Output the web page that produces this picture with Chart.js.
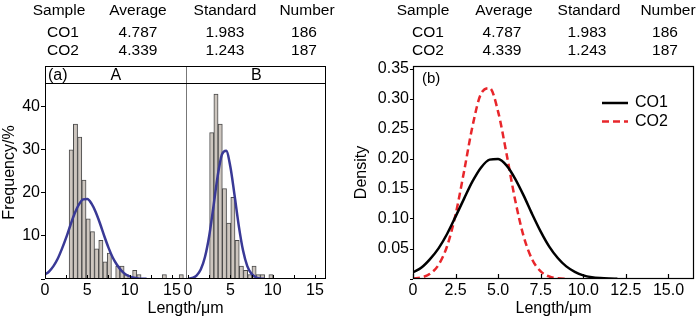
<!DOCTYPE html>
<html>
<head>
<meta charset="utf-8">
<script src="https://cdn.jsdelivr.net/npm/chart.js@4.4.1/dist/chart.umd.min.js"></script>
<style>
  body { margin: 0; background: #fff; }
  #wrap { position: relative; width: 700px; height: 319px; font-family: 'Liberation Sans', Arial, sans-serif; }
  canvas { position: absolute; top: 0; }
  .t { position: absolute; font-size: 15.5px; line-height: 15px; white-space: nowrap; transform: translateX(-50%); color: #000; }
</style>
</head>
<body>
<div id="wrap">
  <canvas id="histo" width="350" height="319" style="left:0"></canvas>
  <canvas id="density" width="350" height="319" style="left:350px"></canvas>
</div>
<script>
// summary table above both panels
const tableHead = ['Sample', 'Average', 'Standard', 'Number'];
const tableCO1 = ['CO1', '4.787', '1.983', '186'];
const tableCO2 = ['CO2', '4.339', '1.243', '187'];

// histogram A (CO1): bin centres in µm and counts
const binsA = [3.1, 3.6, 4.1, 4.6, 5.1, 5.6, 6.1, 6.6, 7.1, 7.6, 8.6, 9.1, 9.6, 10.6, 11.1, 14.1, 16.1];
const countsA = [30, 36, 33, 23, 14, 11, 7, 9, 4, 6, 3, 3, 1, 2, 1, 1, 1];
// histogram B (CO2)
const binsB = [2.8, 3.3, 3.8, 4.3, 4.8, 5.3, 5.8, 6.3, 6.8, 7.3, 7.8, 8.3, 8.8, 9.8];
const countsB = [34, 43, 36, 21, 13, 19, 9, 3, 2, 1, 3, 1, 1, 1];

// fitted curves over the histograms
const fitAx = [0, 0.5, 1, 1.5, 2, 2.5, 3, 3.5, 4, 4.5, 5, 5.5, 6, 6.5, 7, 7.5, 8, 8.5, 9, 9.5, 10, 10.5, 11, 11.5, 12];
const fitAy = [1.0, 1.8, 3.0, 4.7, 7.0, 9.6, 12.5, 15.2, 17.3, 18.5, 18.6, 17.5, 15.5, 12.9, 10.0, 7.3, 5.0, 3.3, 2.0, 1.1, 0.6, 0.3, 0.14, 0.07, 0.03];
const fitBx = [0, 0.5, 1, 1.5, 2, 2.5, 3, 3.5, 4, 4.5, 5, 5.5, 6, 6.5, 7, 7.5, 8, 8.5, 9];
const fitBy = [0.07, 0.25, 0.81, 2.2, 5.1, 10.0, 16.8, 23.9, 28.9, 29.8, 26.1, 19.4, 12.3, 6.6, 3.0, 1.2, 0.4, 0.1, 0.03];

// density curves, panel (b)
const densX1 = [0, 0.5, 1, 1.5, 2, 2.5, 3, 3.5, 4, 4.5, 5, 5.5, 6, 6.5, 7, 7.5, 8, 8.5, 9, 9.5, 10, 10.5, 11, 11.5, 12];
const densCO1 = [0.011, 0.019, 0.033, 0.051, 0.075, 0.104, 0.134, 0.163, 0.186, 0.199, 0.200, 0.189, 0.167, 0.139, 0.108, 0.079, 0.054, 0.035, 0.021, 0.012, 0.006, 0.003, 0.0015, 0.0007, 0.0003];
const densX2 = [0, 0.5, 1, 1.5, 2, 2.5, 3, 3.5, 4, 4.5, 5, 5.5, 6, 6.5, 7, 7.5, 8, 8.5, 9];
const densCO2 = [0.0007, 0.0027, 0.0087, 0.0236, 0.0546, 0.1074, 0.1797, 0.2555, 0.3092, 0.3182, 0.2786, 0.2075, 0.1314, 0.0708, 0.0324, 0.0127, 0.0042, 0.0012, 0.0003];

const histTicks = [0, 5, 10, 15];

// axis ranges of the two histogram sub-panels, laid side by side on one x scale
const A_MIN = 0, A_MAX = 16.6;
const B_MIN = -0.3, B_MAX = 16.3;
const A_SPAN = A_MAX - A_MIN;
const B_OFF = A_SPAN - B_MIN;
const X_MAX = A_SPAN + (B_MAX - B_MIN);
const STRIP_H = 17;

Chart.defaults.font.family = "'Liberation Sans', Arial, sans-serif";
Chart.defaults.color = '#000';

// table text
const wrap = document.getElementById('wrap');
function addTable(cols) {
  const rows = [tableHead, tableCO1, tableCO2];
  const tops = [1.5, 24, 41.5];
  rows.forEach((row, r) => {
    row.forEach((txt, c) => {
      const d = document.createElement('div');
      d.className = 't';
      d.textContent = txt;
      d.style.left = cols[r === 0 ? 0 : 1][c] + 'px';
      d.style.top = tops[r] + 'px';
      wrap.appendChild(d);
    });
  });
}
addTable([[59, 138, 225, 307], [63, 138, 225, 304]]);
addTable([[423, 504, 589, 668], [428, 502, 587, 665]]);

const toXY = (xs, ys, off) => xs.map((x, i) => ({ x: x + off, y: ys[i] }));

// frame, A/B strip and inward ticks for panel (a)
const histFrame = {
  id: 'histFrame',
  afterDraw(chart) {
    const { ctx, chartArea: { left, right, top, bottom }, scales: { x } } = chart;
    ctx.save();
    ctx.fillStyle = '#fff';
    ctx.fillRect(left, top, right - left, STRIP_H);
    ctx.strokeStyle = '#000';
    ctx.lineWidth = 1;
    // inward minor ticks
    ctx.beginPath();
    [0, 2.5, 5, 7.5, 10, 12.5, 15].forEach(v => {
      [v - A_MIN, v + B_OFF].forEach(g => {
        const px = Math.round(x.getPixelForValue(g)) + 0.5;
        ctx.moveTo(px, bottom);
        ctx.lineTo(px, bottom - 4);
      });
    });
    ctx.stroke();
    // divider
    const dx = Math.round(x.getPixelForValue(A_SPAN)) + 0.5;
    ctx.strokeStyle = '#777';
    ctx.beginPath();
    ctx.moveTo(dx, top);
    ctx.lineTo(dx, bottom);
    ctx.stroke();
    // frame + strip line
    ctx.strokeStyle = '#000';
    ctx.strokeRect(left + 0.5, top + 0.5, right - left - 1, bottom - top - 1);
    ctx.beginPath();
    ctx.moveTo(left, top + STRIP_H + 0.5);
    ctx.lineTo(right, top + STRIP_H + 0.5);
    ctx.stroke();
    // strip text
    ctx.fillStyle = '#000';
    ctx.font = "16px 'Liberation Sans', Arial, sans-serif";
    ctx.textBaseline = 'middle';
    ctx.textAlign = 'left';
    ctx.fillText('(a)', left + 3, top + STRIP_H / 2 + 1);
    ctx.textAlign = 'center';
    ctx.fillText('A', (left + dx) / 2, top + STRIP_H / 2 + 1);
    ctx.fillText('B', (dx + right) / 2, top + STRIP_H / 2 + 1);
    ctx.restore();
  }
};

new Chart(document.getElementById('histo'), {
  type: 'bar',
  data: {
    datasets: [
      {
        type: 'line', data: toXY(fitAx, fitAy, -A_MIN), borderColor: '#393996', borderWidth: 2.5,
        pointRadius: 0, cubicInterpolationMode: 'monotone', order: 1
      },
      {
        type: 'line', data: toXY(fitBx, fitBy, B_OFF), borderColor: '#393996', borderWidth: 2.5,
        pointRadius: 0, cubicInterpolationMode: 'monotone', order: 1
      },
      {
        type: 'bar',
        data: toXY(binsA, countsA, -A_MIN).concat(toXY(binsB, countsB, B_OFF)),
        backgroundColor: '#cdc6bf', borderColor: '#4a4a4a', borderWidth: 1,
        barPercentage: 1, categoryPercentage: 1, order: 2
      }
    ]
  },
  options: {
    responsive: false,
    animation: false,
    layout: { padding: { top: 66, right: 24, left: 0, bottom: 0 } },
    plugins: { legend: { display: false }, tooltip: { enabled: false } },
    scales: {
      x: {
        type: 'linear', min: 0, max: X_MAX, offset: false,
        grid: { display: false }, border: { display: false },
        afterBuildTicks: s => {
          s.ticks = histTicks.map(v => ({ value: v - A_MIN })).concat(histTicks.map(v => ({ value: v + B_OFF })));
        },
        ticks: {
          autoSkip: false, maxRotation: 0, padding: -6, font: { size: 16 },
          callback: (v, i) => String(histTicks.concat(histTicks)[i])
        },
        title: { display: true, text: 'Length/μm', font: { size: 16 }, padding: { top: 0, bottom: 1 } },
        afterFit: s => { s.height = 40; }
      },
      y: {
        min: 0, max: 49.5,
        border: { display: false },
        grid: { drawOnChartArea: false, tickLength: 4, color: '#000' },
        ticks: { stepSize: 10, includeBounds: false, padding: 1, font: { size: 16 }, callback: v => v === 0 ? '' : v },
        title: { display: true, text: 'Frequency/%', font: { size: 16, lineHeight: 1.25 }, padding: 0 },
        afterFit: s => { s.width = 45; }
      }
    }
  },
  plugins: [histFrame]
});

// frame, inward x ticks, "(b)" and legend for panel (b)
const densFrame = {
  id: 'densFrame',
  afterDraw(chart) {
    const { ctx, chartArea: { left, right, top, bottom }, scales: { x } } = chart;
    ctx.save();
    ctx.strokeStyle = '#000';
    ctx.lineWidth = 1.2;
    ctx.strokeRect(left + 0.5, top + 0.5, right - left - 1, bottom - top - 1);
    ctx.beginPath();
    x.ticks.forEach(t => {
      const px = Math.round(x.getPixelForValue(t.value)) + 0.5;
      ctx.moveTo(px, bottom);
      ctx.lineTo(px, bottom - 5);
    });
    ctx.stroke();
    ctx.fillStyle = '#000';
    ctx.font = "15px 'Liberation Sans', Arial, sans-serif";
    ctx.textBaseline = 'middle';
    ctx.textAlign = 'left';
    ctx.fillText('(b)', left + 9, top + 13);
    // legend
    const items = chart.data.datasets;
    ctx.font = "16px 'Liberation Sans', Arial, sans-serif";
    items.forEach((ds, i) => {
      const y = top + 37 + i * 18.5;
      ctx.strokeStyle = ds.borderColor;
      ctx.lineWidth = 2.5;
      ctx.setLineDash(ds.borderDash || []);
      ctx.beginPath();
      ctx.moveTo(right - 92, y);
      ctx.lineTo(right - 66, y);
      ctx.stroke();
      ctx.setLineDash([]);
      ctx.fillText(ds.label, right - 59, y);
    });
    ctx.restore();
  }
};

new Chart(document.getElementById('density'), {
  type: 'line',
  data: {
    datasets: [
      {
        label: 'CO1', data: toXY(densX1, densCO1, 0), borderColor: '#000', borderWidth: 2.5,
        pointRadius: 0, cubicInterpolationMode: 'monotone'
      },
      {
        label: 'CO2', data: toXY(densX2, densCO2, 0), borderColor: '#e8262b', borderWidth: 2.5,
        borderDash: [7, 4], pointRadius: 0, cubicInterpolationMode: 'monotone'
      }
    ]
  },
  options: {
    responsive: false,
    animation: false,
    layout: { padding: { top: 66, right: 6, left: 0, bottom: 0 } },
    plugins: { legend: { display: false }, tooltip: { enabled: false } },
    scales: {
      x: {
        type: 'linear', min: 0, max: 16.5,
        grid: { display: false }, border: { display: false },
        ticks: {
          stepSize: 2.5, includeBounds: false, autoSkip: false, maxRotation: 0, padding: -6, font: { size: 16 },
          callback: v => v === 0 ? '0' : v.toFixed(1)
        },
        title: { display: true, text: 'Length/μm', font: { size: 16 }, padding: { top: 0, bottom: 1 } },
        afterFit: s => { s.height = 40; }
      },
      y: {
        min: 0, max: 0.355,
        border: { display: false },
        grid: { drawOnChartArea: false, tickLength: 3, color: '#000' },
        ticks: { stepSize: 0.05, includeBounds: false, padding: 1, font: { size: 16 }, callback: v => v === 0 ? '' : v.toFixed(2) },
        title: { display: true, text: 'Density', font: { size: 16 }, padding: { top: 2, bottom: 0 } },
        afterFit: s => { s.width = 63; }
      }
    }
  },
  plugins: [densFrame]
});
</script>
</body>
</html>
